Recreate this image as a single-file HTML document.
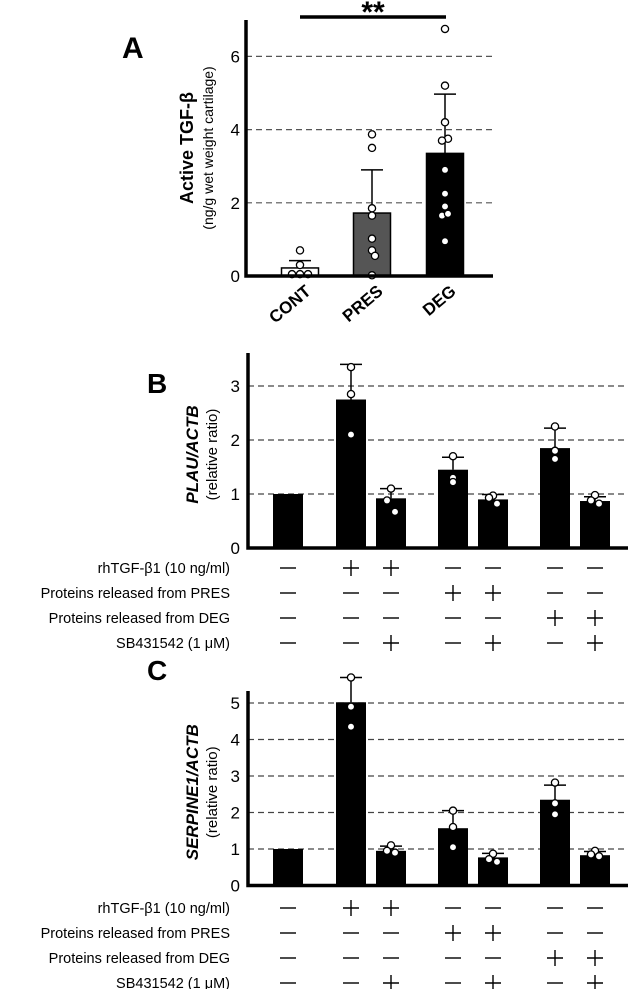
<!DOCTYPE html>
<html><head><meta charset="utf-8"><style>
html,body{margin:0;padding:0;background:#fff;}
svg{display:block;font-family:"Liberation Sans",Arial,sans-serif;}
</style></head><body>
<svg id="fig" width="628" height="989" viewBox="0 0 628 989"></svg>
<script>
// Panel A data
const aCats = ["CONT","PRES","DEG"];
const aMeans = [0.22,1.72,3.35];
const aErr = [0.42,2.9,4.97];
const aColors = ["#fff","#555","#000"];
const aPoints = [[0.7,0.3,0.05,0.05,0.05],[3.87,3.5,1.85,1.65,1.02,0.7,0.55,0.02],[6.75,5.2,4.2,3.75,3.7,2.9,2.25,1.9,1.65,1.7,0.95]];
const aTicks = [0,2,4,6];
// Panel B data
const bMeans = [1,2.75,0.92,1.45,0.9,1.85,0.87];
const bErr = [null,3.4,1.1,1.68,0.99,2.22,0.95];
const bPoints = [[],[3.35,2.85,2.1],[1.1,0.88,0.67],[1.7,1.3,1.22],[0.97,0.93,0.82],[2.25,1.8,1.65],[0.98,0.88,0.82]];
const bTicks = [0,1,2,3];
// Panel C data
const cMeans = [1,5.02,0.95,1.57,0.77,2.35,0.83];
const cErr = [null,5.7,1.08,2.05,0.88,2.75,0.93];
const cPoints = [[],[5.7,4.9,4.35],[1.1,0.95,0.9],[2.05,1.6,1.05],[0.87,0.72,0.65],[2.82,2.25,1.95],[0.95,0.85,0.8]];
const cTicks = [0,1,2,3,4,5];
// treatment table
const rowLabels = ["rhTGF-\u03b21 (10 ng/ml)","Proteins released from PRES","Proteins released from DEG","SB431542 (1 \u03bcM)"];
const treat = [
 ["-","+","+","-","-","-","-"],
 ["-","-","-","+","+","-","-"],
 ["-","-","-","-","-","+","+"],
 ["-","-","+","-","+","-","+"]];

const NS="http://www.w3.org/2000/svg";
const svg=document.getElementById('fig');
function mk(tag,attrs,parent,text){const e=document.createElementNS(NS,tag);for(const k in attrs)e.setAttribute(k,attrs[k]);if(text!==undefined)e.textContent=text;(parent||svg).appendChild(e);return e;}

// ---------- Panel A ----------
const gA=mk('g',{});


const ay=v=>276-v*36.6;
const aCenters=[300,372,445];
const ax=i=>aCenters[i];
const aJit=[[0,0,-8,0,8],[0,0,0,0,0,0,3,0],[0,0,0,3,-3,0,0,0,-3,3,0]];
let t=mk('text',{x:122,y:58,'font-size':30,'font-weight':'bold'},gA,'A');

aTicks.forEach(v=>{
  if(v>0){const l=mk('line',{x1:246,x2:493,y1:ay(v),y2:ay(v),stroke:'#555','stroke-width':1.2,'stroke-dasharray':'6,4'},gA);
  }
  const tt=mk('text',{x:240,y:ay(v)+6,'font-size':17,'text-anchor':'end'},gA,String(v));
  
});
aMeans.forEach((m,i)=>{
  const r=mk('rect',{x:ax(i)-18.5,y:ay(m),width:37,height:ay(0)-ay(m),fill:aColors[i],stroke:'#000','stroke-width':1.5},gA);
  
  const e=mk('path',{d:`M${ax(i)} ${ay(m)}V${ay(aErr[i])}M${ax(i)-11} ${ay(aErr[i])}H${ax(i)+11}`,stroke:'#000','stroke-width':1.5,fill:'none'},gA);
  
  aPoints[i].forEach((p,j)=>{
    const off=aJit[i][j]||0;
    const c=mk('circle',{cx:ax(i)+off,cy:ay(p),r:3.6,fill:'#fff',stroke:'#000','stroke-width':1.3},gA);
    
  });
  const lb=mk('text',{x:0,y:0,'font-size':17,'font-weight':'bold','text-anchor':'end',transform:`translate(${ax(i)+12},${293}) rotate(-40)`},gA,aCats[i]);
  
});
let ln=mk('path',{d:'M246 20V276H493',stroke:'#000','stroke-width':3.5,fill:'none'},gA);

ln=mk('line',{x1:300,x2:446,y1:17,y2:17,stroke:'#000','stroke-width':3.5},gA);

t=mk('text',{x:373,y:22,'font-size':30,'font-weight':'bold','text-anchor':'middle'},gA,'**');

t=mk('text',{x:0,y:0,'font-size':18,'font-weight':'bold','text-anchor':'middle',transform:'translate(193,148) rotate(-90)'},gA,'Active TGF-\u03b2');

t=mk('text',{x:0,y:0,'font-size':14,'text-anchor':'middle',transform:'translate(213,148) rotate(-90)'},gA,'(ng/g wet weight cartilage)');


// ---------- Panels B, C ----------
const centers=[288,351,391,453,493,555,595];
function panel(name,letter,letterY,means,errs,pts,ticks,y0,unit,axTop,title,rowsY){
  const g=mk('g',{});
  
  
  const yy=v=>y0-v*unit;
  let t=mk('text',{x:147,y:letterY,'font-size':28,'font-weight':'bold'},g,letter);
  
  ticks.forEach(v=>{
    if(v>0){const l=mk('line',{x1:248,x2:628,y1:yy(v),y2:yy(v),stroke:'#444','stroke-width':1.2,'stroke-dasharray':'6,4'},g);
    }
    const tt=mk('text',{x:240,y:yy(v)+6,'font-size':17,'text-anchor':'end'},g,String(v));
    
  });
  means.forEach((m,i)=>{
    const x=centers[i];
    const r=mk('rect',{x:x-15,y:yy(m),width:30,height:yy(0)-yy(m),fill:'#000'},g);
    
    if(errs[i]!==null){
      const e=mk('path',{d:`M${x} ${yy(m)}V${yy(errs[i])}M${x-11} ${yy(errs[i])}H${x+11}`,stroke:'#000','stroke-width':1.5,fill:'none'},g);
      
    }
    pts[i].forEach((p,j)=>{
      const o=(i===2||i===4||i===6)?[0,-4,4][j]:0;
      const c=mk('circle',{cx:x+o,cy:yy(p),r:3.6,fill:'#fff',stroke:'#000','stroke-width':1.3},g);
      
    });
  });
  let ax=mk('path',{d:`M248 ${axTop}V${y0}H628`,stroke:'#000','stroke-width':3.5,fill:'none'},g);
  
  const mid=(axTop+y0)/2+4;
  t=mk('text',{x:0,y:0,'font-size':17,'font-weight':'bold','font-style':'italic','text-anchor':'middle',transform:`translate(198,${mid}) rotate(-90)`},g,title);
  
  t=mk('text',{x:0,y:0,'font-size':15,'text-anchor':'middle',transform:`translate(217,${mid}) rotate(-90)`},g,'(relative ratio)');
  
  rowLabels.forEach((lab,r)=>{
    const y=rowsY[r];
    const tl=mk('text',{x:230,y:y+5,'font-size':14.5,'text-anchor':'end'},g,lab);
    
    treat[r].forEach((s,i)=>{
      const x=centers[i];
      const d=s==='+'?`M${x-8} ${y}H${x+8}M${x} ${y-8}V${y+8}`:`M${x-8} ${y}H${x+8}`;
      const p=mk('path',{d:d,stroke:'#000','stroke-width':1.4,fill:'none'},g);
      
    });
  });
}
panel('b','B',393,bMeans,bErr,bPoints,bTicks,548,54,353,'PLAU/ACTB',[568,593,618,643]);
panel('c','C',680,cMeans,cErr,cPoints,cTicks,885.5,36.5,691,'SERPINE1/ACTB',[908,933,958,983]);
</script>
</body></html>
